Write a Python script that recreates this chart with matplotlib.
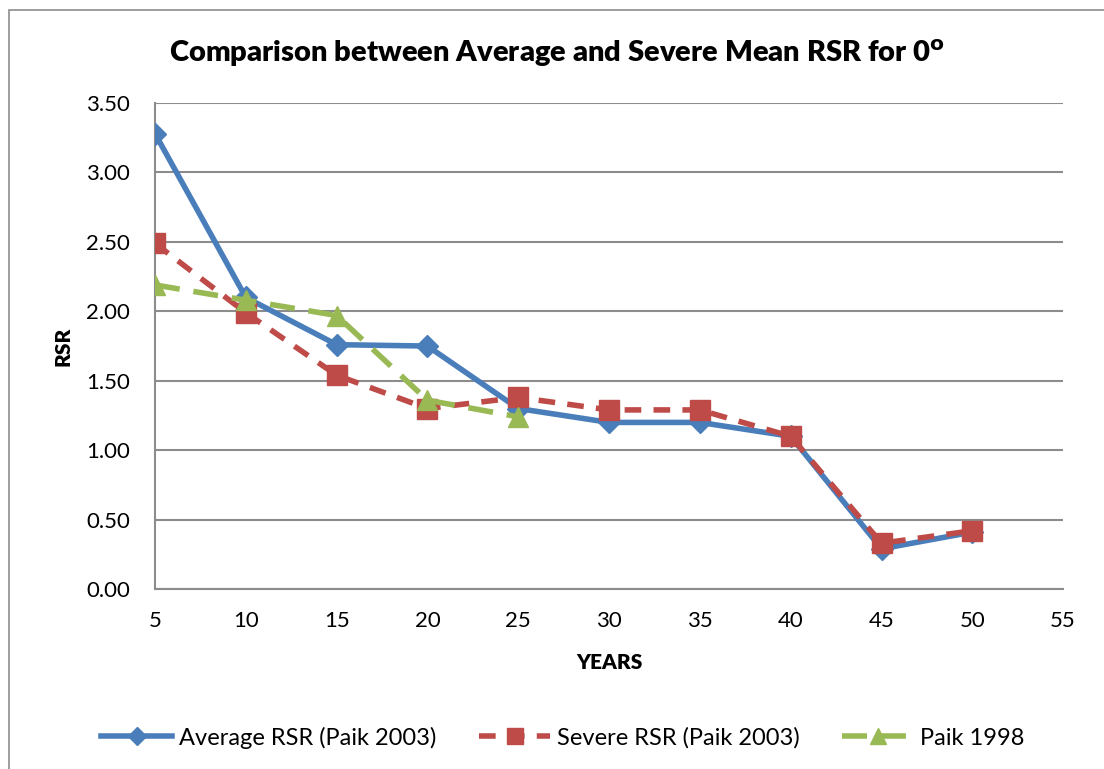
import numpy as np
import matplotlib
matplotlib.use("Agg")
import matplotlib.pyplot as plt
from matplotlib.patches import Rectangle

plt.rcParams["font.family"] = ["Lato", "DejaVu Sans"]

# RSR values read per 5-year step
years = [5, 10, 15, 20, 25, 30, 35, 40, 45, 50]
average_rsr = [3.28, 2.10, 1.76, 1.75, 1.30, 1.20, 1.20, 1.10, 0.29, 0.41]
severe_rsr = [2.49, 1.99, 1.54, 1.30, 1.38, 1.29, 1.29, 1.10, 0.33, 0.42]
paik_years = [5, 10, 15, 20, 25]
paik_1998 = [2.19, 2.08, 1.97, 1.36, 1.24]

fig = plt.figure(figsize=(11.04, 7.69), dpi=100)
ax = fig.add_axes([0.1404, 0.234, 0.8226, 0.632])

ax.plot(years, average_rsr, color="#4a7ebb", lw=4, marker="D", ms=11,
        label="Average RSR (Paik 2003)", zorder=3)
ax.plot(years, severe_rsr, color="#be4b48", lw=4, ls=(0, (3, 2.2)), marker="s",
        ms=15, label="Severe RSR (Paik 2003)", zorder=4)
ax.plot(paik_years, paik_1998, color="#98b954", lw=4, ls=(0, (4.5, 2.5)), marker="^",
        ms=15, label="Paik 1998", zorder=5)

ax.set_xlim(5, 55)
ax.set_ylim(0, 3.5)
ax.set_xticks(np.arange(5, 56, 5))
ax.set_yticks(np.arange(0, 3.51, 0.5))
ax.yaxis.set_major_formatter(matplotlib.ticker.FormatStrFormatter("%.2f"))
ax.tick_params(length=0, labelsize=16)
ax.tick_params(axis="y", pad=18)
ax.tick_params(axis="x", pad=16)
ax.grid(axis="y", color="#8c8c8c", lw=1.5)
ax.set_axisbelow(True)
for side in ["top", "right"]:
    ax.spines[side].set_visible(False)
for side in ["left", "bottom"]:
    ax.spines[side].set_color("#8c8c8c")
    ax.spines[side].set_linewidth(1.5)

ax.set_xlabel("YEARS", fontsize=15, fontweight="heavy", labelpad=16)
ax.set_ylabel("RSR", fontsize=15, fontweight="heavy", labelpad=10)
fig.text(0.505, 0.931, "Comparison between Average and Severe Mean RSR for 0$^{\\mathbf{o}}$",
         ha="center", va="center", fontsize=21, fontweight="heavy")

ax.legend(loc="center", bbox_to_anchor=(0.51, 0.041), bbox_transform=fig.transFigure,
          ncol=3, frameon=False, fontsize=17, handlelength=3.0, columnspacing=1.8,
          handletextpad=0.3, markerscale=0.8)

fig.patches.append(Rectangle((9 / 1104, -0.01), 1.02, 1 - 10 / 769 + 0.01,
                             transform=fig.transFigure, fill=False,
                             edgecolor="#8c8c8c", lw=1.2))

fig.savefig("out.png", dpi=100)
